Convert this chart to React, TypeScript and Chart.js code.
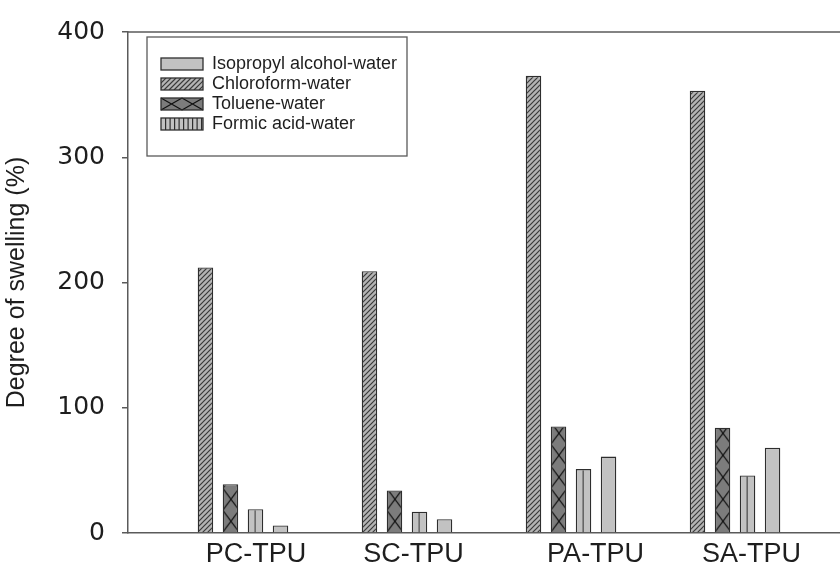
import React, { useEffect, useRef } from "react";
import { Chart, registerables } from "chart.js";

Chart.register(...registerables);

// ---------- data ----------
const categories = ["PC-TPU", "SC-TPU", "PA-TPU", "SA-TPU"];
const seriesNames = [
  "Isopropyl alcohol-water",
  "Chloroform-water",
  "Toluene-water",
  "Formic acid-water",
];
const isopropylWater = [6, 11, 61, 68];
const chloroformWater = [212, 209, 365, 353];
const tolueneWater = [39, 34, 85, 84];
const formicAcidWater = [19, 17, 51, 46];
const yTicks = [0, 100, 200, 300, 400];
const yTitle = "Degree of swelling (%)";

// ---------- style / layout ----------
const FONT = "'Liberation Sans', Arial, Helvetica, sans-serif";
const TICK_FONT = "'DejaVu Sans', 'Liberation Sans', Arial, sans-serif";
const AXIS_COLOR = "#5a5a5a";
const TEXT_COLOR = "#1e1e1e";
const BAR_BORDER = "#2e2e2e";
const LIGHT = "#c2c2c2";
const MID = "#b4b4b4";
const DARK = "#7c7c7c";
const X_MIN = 0.299;
const X_MAX = 4.64;
const LABEL_SHIFT = [0.08, 0.04, 0.15, 0.1]; // label offsets (category units)
const GROUP_SPAN = 0.61; // group width in category units

function tile(w: number, h: number, draw: (g: CanvasRenderingContext2D) => void) {
  const c = document.createElement("canvas");
  c.width = w;
  c.height = h;
  const g = c.getContext("2d")!;
  draw(g);
  return c;
}

function drawDiag(g: CanvasRenderingContext2D, x: number, y: number, w: number, h: number, step: number) {
  g.save();
  g.beginPath();
  g.rect(x, y, w, h);
  g.clip();
  g.fillStyle = MID;
  g.fillRect(x, y, w, h);
  g.strokeStyle = "#3a3a3a";
  g.lineWidth = 1.2;
  g.beginPath();
  for (let k = -h; k < w + h; k += step) {
    g.moveTo(x + k, y + h);
    g.lineTo(x + k + h, y);
  }
  g.stroke();
  g.restore();
}

export default function App() {
  const ref = useRef<HTMLCanvasElement | null>(null);

  useEffect(() => {
    document.body.style.margin = "0";
    const canvas = ref.current!;
    const ctx = canvas.getContext("2d")!;

    const diagTile = tile(5, 5, (g) => {
      g.fillStyle = MID;
      g.fillRect(0, 0, 5, 5);
      g.strokeStyle = "#3a3a3a";
      g.lineWidth = 1.2;
      g.beginPath();
      g.moveTo(-1, 6);
      g.lineTo(6, -1);
      g.moveTo(-1, 1);
      g.lineTo(1, -1);
      g.moveTo(4, 6);
      g.lineTo(6, 4);
      g.stroke();
    });
    const crossTile = tile(16, 22, (g) => {
      g.fillStyle = DARK;
      g.fillRect(0, 0, 16, 22);
      g.strokeStyle = "#111";
      g.lineWidth = 1.2;
      g.beginPath();
      g.moveTo(0, 0);
      g.lineTo(16, 22);
      g.moveTo(16, 0);
      g.lineTo(0, 22);
      g.stroke();
    });
    const vertTile = tile(8, 8, (g) => {
      g.fillStyle = LIGHT;
      g.fillRect(0, 0, 8, 8);
      g.fillStyle = "#2e2e2e";
      g.fillRect(7, 0, 1.2, 8);
    });
    const diagPat = ctx.createPattern(diagTile, "repeat")!;
    const crossPat = ctx.createPattern(crossTile, "repeat")!;
    const vertPat = ctx.createPattern(vertTile, "repeat")!;

    const pts = (arr: number[]) => arr.map((v, i) => ({ x: i + 1, y: v }));

    const tickPos = categories.map((_, i) => i + 1 + LABEL_SHIFT[i]);
    let minGap = 1;
    for (let i = 1; i < tickPos.length; i++) minGap = Math.min(minGap, tickPos[i] - tickPos[i - 1]);
    const catPct = GROUP_SPAN / minGap;

    const alignPatterns = {
      id: "alignPatterns",
      beforeDatasetsDraw(chart: any) {
        const setFor = (dsIndex: number, pat: CanvasPattern, tileW: number) => {
          const meta = chart.getDatasetMeta(dsIndex);
          const el = meta.data[0];
          if (!el) return;
          const p = el.getProps(["x", "width", "base"], true);
          const unit = chart.scales.x.getPixelForValue(2) - chart.scales.x.getPixelForValue(1);
          const n = Math.max(1, Math.round(unit / tileW));
          const sx = unit / n / tileW;
          pat.setTransform(new DOMMatrix([sx, 0, 0, 1, p.x - p.width / 2, p.base]));
        };
        setFor(1, crossPat, 16);
        setFor(2, vertPat, 8);
      },
    };

    const frame = {
      id: "frame",
      afterDraw(chart: any) {
        const { left, right, top } = chart.chartArea;
        const c = chart.ctx;
        c.save();
        c.strokeStyle = AXIS_COLOR;
        c.lineWidth = 1.5;
        c.beginPath();
        c.moveTo(left, top);
        c.lineTo(right, top);
        c.stroke();
        c.restore();
      },
    };

    const legendBox = {
      id: "legendBox",
      afterDraw(chart: any) {
        const c = chart.ctx;
        const bx = 147, by = 37, bw = 260, bh = 119;
        const swX = 161, swW = 42, swH = 12, row0 = 58, gap = 20, textX = 212;
        c.save();
        c.fillStyle = "#fff";
        c.fillRect(bx, by, bw, bh);
        c.strokeStyle = AXIS_COLOR;
        c.lineWidth = 1.3;
        c.strokeRect(bx, by, bw, bh);
        c.font = `18px ${FONT}`;
        c.textBaseline = "middle";
        c.textAlign = "left";
        seriesNames.forEach((name, i) => {
          const y = row0 + i * gap;
          if (i === 0) {
            c.fillStyle = LIGHT;
            c.fillRect(swX, y, swW, swH);
          } else if (i === 1) {
            drawDiag(c, swX, y, swW, swH, 5);
          } else if (i === 2) {
            c.fillStyle = DARK;
            c.fillRect(swX, y, swW, swH);
            c.strokeStyle = "#111";
            c.lineWidth = 1.2;
            c.beginPath();
            for (let k = 0; k < 2; k++) {
              const x0 = swX + k * (swW / 2);
              c.moveTo(x0, y);
              c.lineTo(x0 + swW / 2, y + swH);
              c.moveTo(x0 + swW / 2, y);
              c.lineTo(x0, y + swH);
            }
            c.stroke();
          } else {
            c.fillStyle = LIGHT;
            c.fillRect(swX, y, swW, swH);
            c.fillStyle = "#2e2e2e";
            for (let xx = swX + 4; xx < swX + swW - 1; xx += 4.5) c.fillRect(xx, y, 1.2, swH);
          }
          c.strokeStyle = BAR_BORDER;
          c.lineWidth = 1.3;
          c.strokeRect(swX, y, swW, swH);
          c.fillStyle = TEXT_COLOR;
          c.fillText(name, textX, y + swH / 2 + 0.5);
        });
        c.restore();
      },
    };

    const common = {
      borderColor: BAR_BORDER,
      borderWidth: 1.3,
      categoryPercentage: catPct,
      barPercentage: 0.62,
    };

    const chart = new Chart(ctx, {
      type: "bar",
      data: {
        datasets: [
          { label: seriesNames[1], data: pts(chloroformWater), backgroundColor: diagPat, ...common },
          { label: seriesNames[2], data: pts(tolueneWater), backgroundColor: crossPat, ...common },
          { label: seriesNames[3], data: pts(formicAcidWater), backgroundColor: vertPat, ...common },
          { label: seriesNames[0], data: pts(isopropylWater), backgroundColor: LIGHT, ...common },
        ] as any,
      },
      options: {
        animation: false,
        responsive: true,
        maintainAspectRatio: false,
        layout: { padding: { top: 19, right: 0, left: 0, bottom: 0 } },
        plugins: { legend: { display: false }, tooltip: { enabled: false } },
        scales: {
          x: {
            type: "linear",
            min: X_MIN,
            max: X_MAX,
            offset: false,
            afterBuildTicks: (s: any) => {
              s.ticks = tickPos.map((v) => ({ value: v }));
            },
            afterFit: (s: any) => {
              s.height = 42;
            },
            grid: { display: false, drawTicks: false },
            border: { display: true, color: AXIS_COLOR, width: 1.5 },
            ticks: {
              autoSkip: false,
              maxRotation: 0,
              padding: 5,
              color: TEXT_COLOR,
              font: { family: FONT, size: 27 },
              callback: (_v: any, i: number) => categories[i],
            },
          },
          y: {
            type: "linear",
            min: yTicks[0],
            max: yTicks[yTicks.length - 1],
            afterBuildTicks: (s: any) => {
              s.ticks = yTicks.map((v) => ({ value: v }));
            },
            afterFit: (s: any) => {
              s.width = 128;
            },
            grid: {
              drawOnChartArea: false,
              drawTicks: true,
              tickLength: 6,
              color: AXIS_COLOR,
              lineWidth: 1.5,
            },
            border: { display: true, color: AXIS_COLOR, width: 1.5 },
            ticks: {
              padding: 17,
              color: TEXT_COLOR,
              font: { family: TICK_FONT, size: 25 },
            },
            title: {
              display: true,
              text: yTitle,
              color: TEXT_COLOR,
              font: { family: FONT, size: 25 },
              padding: { top: 2, bottom: 0 },
            },
          },
        },
      } as any,
      plugins: [alignPatterns, frame, legendBox],
    });

    return () => chart.destroy();
  }, []);

  return (
    <div style={{ width: 840, height: 575, position: "relative" }}>
      <canvas ref={ref} />
    </div>
  );
}
